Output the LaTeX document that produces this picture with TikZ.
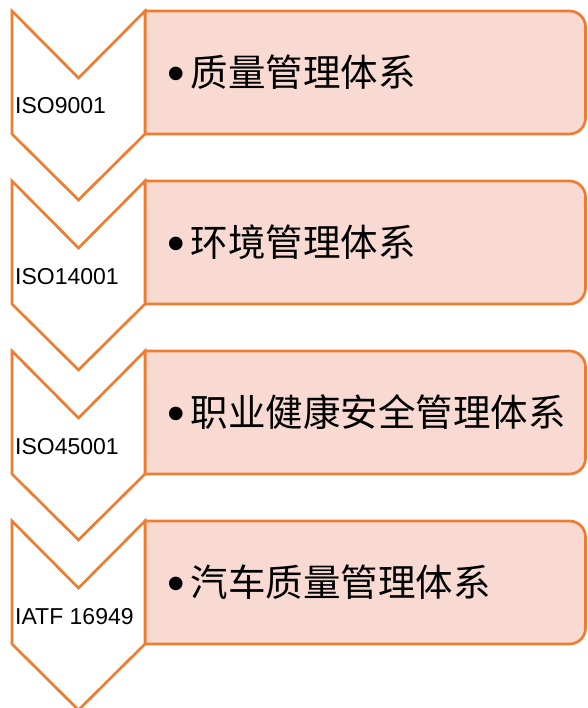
\documentclass[tikz,border=0pt]{standalone}
\usepackage{fontspec}
\setmainfont{Liberation Sans}
\newfontfamily\cjk{Noto Sans CJK SC}
\definecolor{accent}{HTML}{ED7D31}
\definecolor{pale}{HTML}{F8DAD3}
\newcommand\dotmark{{\fontsize{50}{50}\selectfont\raisebox{-4pt}{\textbullet}}\hspace{6pt}}

\begin{document}
\begin{tikzpicture}[x=1pt, y=-1pt,
	chevron/.style = {draw=accent, line width=2.7pt, fill=white, line join=miter},
	band/.style = {draw=accent, line width=2.7pt, fill=pale},
	code/.style = {anchor=base west, inner sep=0pt, font=\fontsize{23}{23}\selectfont},
	item/.style = {anchor=west, inner sep=0pt, font=\fontsize{37.5}{37.5}\selectfont}]

	\useasboundingbox (0,0) rectangle (587,708);
	\clip (0,0) rectangle (587,708);

	\foreach \i/\code/\item [evaluate=\i as \t using 11+170*\i] in
		{0/ISO9001/质量管理体系,
		 1/ISO14001/环境管理体系,
		 2/ISO45001/职业健康安全管理体系,
		 3/IATF 16949/汽车质量管理体系} {

		% band on the right
		\draw [band] (145,\t) -- (569.5,\t) arc (-90:0:16) --
			(585.5,{\t+107}) arc (0:90:16) -- (145,{\t+123}) -- cycle;

		% chevron on the left
		\draw [chevron] (12,\t) --
			(78.5,{\t+67}) --
			(145,\t) --
			(145,{\t+123}) --
			(78.5,{\t+189}) --
			(12,{\t+123}) -- cycle;

		\node [code] (code\i) at (15,{\t+103}) {\code};
		\node [item] (item\i) at (167,{\t+62}) {\dotmark\cjk \item};
	}

\end{tikzpicture}
\end{document}
